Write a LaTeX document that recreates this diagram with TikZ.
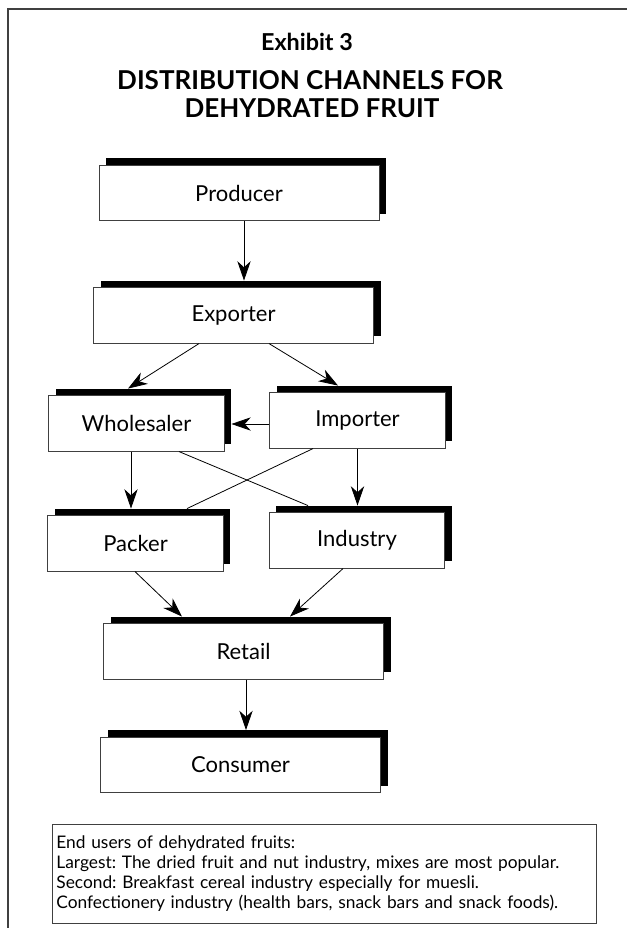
\documentclass[tikz,border=0pt]{standalone}
\usepackage{fontspec}
\setmainfont{Lato}
\usetikzlibrary{arrows.meta,calc}
\begin{document}
\frenchspacing
\begin{tikzpicture}[x=0.75pt,y=-0.75pt,
  mbox/.style={draw=black!75, line width=0.6pt, fill=white, inner sep=0pt, minimum height=41.5pt, font=\fontsize{16.5}{19}\selectfont},
  sbox/.style={fill=black, draw=none, inner sep=0pt, minimum height=41.5pt},
  wide/.style={minimum width=210pt},
  narrow/.style={minimum width=131.5pt},
  arr/.style={draw=black, line width=0.6pt, -{Stealth[length=14.5pt,width=10pt,inset=4.5pt]}},
  ln/.style={draw=black, line width=0.6pt},
  ttl/.style={anchor=base, font=\bfseries\fontsize{19.5}{21}\selectfont}
]
\useasboundingbox (0,0) rectangle (626,928);
\draw[black!75, line width=1.1pt] (8,935) -- (8,9) -- (635,9);

\node[anchor=base, font=\bfseries\fontsize{17.5}{20}\selectfont] (exh) at (307,50) {Exhibit 3};
\node[ttl] (t1) at (310,89) {DISTRIBUTION CHANNELS FOR};
\node[ttl] (t2) at (312,117) {DEHYDRATED FRUIT};

\node[sbox,wide] (prodS) at (246,186) {};
\node[mbox,wide] (prod) at (239,193) {Producer};
\node[sbox,wide] (expS) at (240.5,308.5) {};
\node[mbox,wide] (exp) at (233.5,315.5) {Exporter};
\node[sbox,narrow] (wholeS) at (143.5,416.5) {};
\node[mbox,narrow] (whole) at (136.5,423.5) {Wholesaler};
\node[sbox,narrow] (impS) at (364.5,413.5) {};
\node[mbox,narrow] (imp) at (357.5,420.5) {Importer};
\node[sbox,narrow] (packS) at (142.5,536.5) {};
\node[mbox,narrow] (pack) at (135.5,543.5) {Packer};
\node[sbox,narrow] (indS) at (364,533.5) {};
\node[mbox,narrow] (ind) at (357,540.5) {Industry};
\node[sbox,wide] (retailS) at (250.5,644.5) {};
\node[mbox,wide] (retail) at (243.5,651.5) {Retail};
\node[sbox,wide] (consS) at (247.5,758) {};
\node[mbox,wide] (cons) at (240.5,765) {Consumer};

\coordinate (a1) at ($(prod.south)+(5,0)$);
\draw[arr] (a1) -- (a1 |- expS.north);
\draw[arr] ($(exp.south)+(-34.5,0)$) -- ($(wholeS.north)+(-15.5,0)$);
\draw[arr] ($(exp.south)+(35.5,0)$) -- ($(impS.north)+(-26.5,0)$);
\coordinate (a4) at ($(imp.west)+(0,3.5)$);
\draw[arr] (a4) -- (a4 -| wholeS.east);
\coordinate (a5) at ($(whole.south)+(-5.5,0)$);
\draw[arr] (a5) -- (a5 |- packS.north);
\draw[arr] (imp.south) -- (imp.south |- indS.north);
\draw[ln] ($(whole.south)+(42.5,0)$) -- ($(indS.north)+(-56,0)$);
\draw[ln] ($(imp.south)+(-44.5,0)$) -- ($(packS.north)+(44.5,0)$);
\draw[arr] ($(pack.south)+(-0.5,0)$) -- ($(retailS.north)+(-68.5,0)$);
\draw[arr] ($(ind.south)+(-14,0)$) -- ($(retailS.north)+(39.5,0)$);
\coordinate (a11) at ($(retail.south)+(2.5,0)$);
\draw[arr] (a11) -- (a11 |- consS.north);

\node[draw=black!75, line width=0.6pt, anchor=north west, minimum width=408pt, minimum height=74.25pt, inner xsep=3pt, text width=402pt, align=left, font=\fontsize{13}{15}\selectfont] (note) at (52,824) {End users of dehydrated fruits:\\
Largest: The dried fruit and nut industry, mixes are most popular.\\
Second: Breakfast cereal industry especially for muesli.\\
Confectionery industry (health bars, snack bars and snack foods).};
\end{tikzpicture}
\end{document}
